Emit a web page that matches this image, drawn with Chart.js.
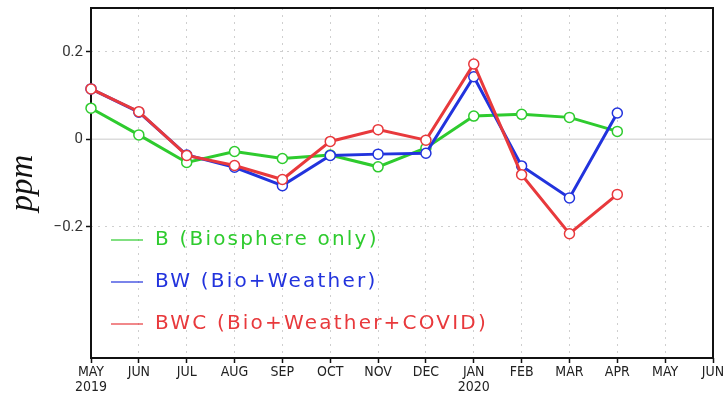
<!DOCTYPE html>
<html>
<head>
<meta charset="utf-8">
<script src="https://cdn.jsdelivr.net/npm/chart.js@4"></script>
<style>
  html, body { margin: 0; padding: 0; background: #fff; }
  #wrap { width: 728px; height: 399px; }
</style>
</head>
<body>
<div id="wrap"><canvas id="c" width="728" height="399"></canvas></div>
<script>
const months = [['MAY', '2019'], 'JUN', 'JUL', 'AUG', 'SEP', 'OCT', 'NOV', 'DEC',
                ['JAN', '2020'], 'FEB', 'MAR', 'APR', 'MAY', 'JUN'];
const yTicks = [-0.2, 0, 0.2];

const seriesNames = ['B (Biosphere only)', 'BW (Bio+Weather)', 'BWC (Bio+Weather+COVID)'];
const seriesColors = ['#2ecb2e', '#2233dd', '#e8393c'];

const bValues   = [0.071, 0.010, -0.053, -0.028, -0.044, -0.036, -0.063, -0.020, 0.053, 0.057, 0.050, 0.018, null, null];
const bwValues  = [0.115, 0.062, -0.036, -0.064, -0.106, -0.037, -0.034, -0.032, 0.143, -0.061, -0.134, 0.060, null, null];
const bwcValues = [0.115, 0.063, -0.037, -0.060, -0.092, -0.005, 0.022, -0.002, 0.172, -0.081, -0.216, -0.126, null, null];

const allValues = [bValues, bwValues, bwcValues];

function makeSet(i) {
    return {
        label: seriesNames[i],
        data: allValues[i],
        borderColor: seriesColors[i],
        backgroundColor: '#fff',
        pointBackgroundColor: '#fff',
        pointBorderColor: seriesColors[i],
        pointRadius: 5,
        pointBorderWidth: 1.5,
        borderWidth: 3,
        tension: 0,
        clip: false,
        order: 2 - i,
    };
}

// zero line + black frame under the lines
const framePlugin = {
    id: 'frame',
    beforeDatasetsDraw(chart) {
        const { ctx, chartArea: a, scales } = chart;
        const y0 = scales.y.getPixelForValue(0);
        ctx.save();
        ctx.strokeStyle = '#dcdcdc';
        ctx.lineWidth = 1.5;
        ctx.beginPath();
        ctx.moveTo(a.left, y0);
        ctx.lineTo(a.right, y0);
        ctx.stroke();
        ctx.strokeStyle = '#111';
        ctx.lineWidth = 2;
        ctx.strokeRect(a.left, a.top, a.right - a.left, a.bottom - a.top);
        ctx.restore();
    }
};

// legend written inside the plot, lower left
const legendPlugin = {
    id: 'innerLegend',
    afterDraw(chart) {
        const { ctx, chartArea: a } = chart;
        ctx.save();
        ctx.font = '20px "DejaVu Sans", sans-serif';
        ctx.textBaseline = 'middle';
        seriesNames.forEach((name, i) => {
            const y = a.top + 232 + i * 42;
            ctx.strokeStyle = seriesColors[i];
            ctx.lineWidth = 1.2;
            ctx.beginPath();
            ctx.moveTo(a.left + 20, y);
            ctx.lineTo(a.left + 52, y);
            ctx.stroke();
            ctx.fillStyle = seriesColors[i];
            ctx.letterSpacing = '2.2px';
            ctx.fillText(name, a.left + 64, y);
        });
        ctx.restore();
    }
};

new Chart(document.getElementById('c'), {
    type: 'line',
    data: {
        labels: months,
        datasets: [0, 1, 2].map(makeSet)
    },
    options: {
        responsive: false,
        animation: false,
        events: [],
        layout: { padding: { top: 8, right: 15, left: 0, bottom: 0 } },
        plugins: {
            legend: { display: false },
            tooltip: { enabled: false }
        },
        scales: {
            x: {
                type: 'category',
                offset: false,
                grid: {
                    color: '#cfcfcf',
                    lineWidth: 1,
                    drawTicks: true,
                    tickLength: 5,
                    tickColor: '#111',
                    tickWidth: 1.5,
                    tickBorderDash: [],
                },
                border: { display: false, dash: [2, 5] },
                ticks: {
                    autoSkip: false,
                    maxRotation: 0,
                    padding: 2,
                    color: '#222',
                    font: { family: '"DejaVu Sans Condensed", "Liberation Sans Narrow", sans-serif', size: 14, lineHeight: 1.05 },
                },
                afterFit(s) { s.height = 41; }
            },
            y: {
                min: -0.5,
                max: 0.3,
                afterBuildTicks(s) { s.ticks = yTicks.map(v => ({ value: v })); },
                grid: {
                    color: ctx => (ctx.tick && ctx.tick.value === 0) ? 'rgba(0,0,0,0)' : '#cfcfcf',
                    lineWidth: 1,
                    drawTicks: true,
                    tickLength: 5,
                    tickColor: '#111',
                    tickWidth: 1.5,
                    tickBorderDash: [],
                },
                border: { display: false, dash: [2, 5] },
                ticks: {
                    color: '#333',
                    padding: 3,
                    font: { family: 'Roboto, sans-serif', size: 15 },
                    callback: v => v === 0 ? '0' : (v < 0 ? '\u2212' + Math.abs(v) : String(v))
                },
                title: {
                    display: true,
                    text: 'ppm',
                    color: '#111',
                    padding: { top: 4, bottom: 0 },
                    font: { family: '"Liberation Serif", serif', style: 'italic', size: 33 }
                },
                afterFit(s) {
                    s.width = 91;
                    s.paddingTop = 0;
                    s.paddingBottom = 0;
                }
            }
        }
    },
    plugins: [framePlugin, legendPlugin]
});
</script>
</body>
</html>
